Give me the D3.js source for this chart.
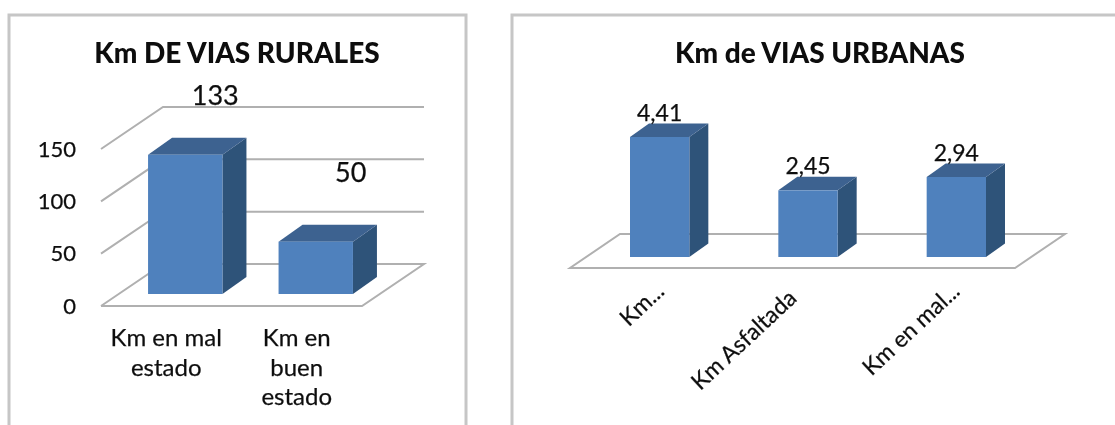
<!DOCTYPE html>
<html>
<head>
<meta charset="utf-8">
<script src="https://d3js.org/d3.v7.min.js"></script>
<style>
    html, body { margin: 0; padding: 0; background: #fff; overflow: hidden; }
    svg { display: block; }
    text { font-family: Lato, "Open Sans", sans-serif; fill: #111; stroke: #111; stroke-width: 0.25px; }
    .chart-title { font-weight: 900; font-size: 28px; text-anchor: middle; fill: #0a0a0a; stroke: none; }
    .grid { stroke: #b0b0b0; stroke-width: 2; fill: none; }
    .tick text { font-size: 22px; }
</style>
</head>
<body>
<div id="chart"></div>
<script>
    // left chart
    var ruralCategories = [["Km en mal", "estado"], ["Km en", "buen", "estado"]];
    var ruralValues = [133, 50];
    var ruralTicks = [0, 50, 100, 150];

    // right chart
    var urbanCategories = ["Km...", "Km Asfaltada", "Km en mal..."];
    var urbanValues = [4.41, 2.45, 2.94];

    var colors = { front: "#4f81bd", top: "#3c6290", side: "#2f5279", frame: "#c6c6c6" };
    var fmt = function(v) { return String(v).replace(".", ","); };

    var svg = d3.select("#chart").append("svg")
        .attr("width", 1115)
        .attr("height", 425);

    svg.append("rect").attr("width", 1115).attr("height", 425).attr("fill", "#fff");

    // soft edge, the reference is a scan
    svg.append("defs").append("filter").attr("id", "soft")
        .append("feGaussianBlur").attr("stdDeviation", 0.45);

    var root = svg.append("g").attr("filter", "url(#soft)");

    // frames run off the bottom (and right for the second one)
    var frame = function(x, w) {
        root.append("rect")
            .attr("x", x).attr("y", 15)
            .attr("width", w).attr("height", 430)
            .attr("fill", "#fff")
            .attr("stroke", colors.frame)
            .attr("stroke-width", 3);
    };
    frame(9, 457);
    frame(512, 640);

    var line = d3.line();

    var bar3d = function(g, x, w, base, top, dx, dy) {
        g.append("path").attr("fill", colors.side)
            .attr("d", line([[x + w, top], [x + w + dx, top + dy], [x + w + dx, base + dy], [x + w, base]]) + "Z");
        g.append("path").attr("fill", colors.top)
            .attr("d", line([[x, top], [x + dx, top + dy], [x + w + dx, top + dy], [x + w, top]]) + "Z");
        g.append("rect").attr("fill", colors.front)
            .attr("x", x).attr("y", top)
            .attr("width", w).attr("height", base - top);
    };

    // ---- Km DE VIAS RURALES ----
    var left = root.append("g");

    left.append("text").attr("class", "chart-title")
        .attr("x", 237).attr("y", 63)
        .text("Km DE VIAS RURALES");

    var wallDx = 62, wallDy = -42;
    var xL = d3.scaleBand()
        .domain(d3.range(ruralValues.length))
        .range([120, 381])
        .paddingInner(0.43)
        .paddingOuter(0.215);
    // y of the front edge of the floor
    var yL = d3.scaleLinear().domain([0, 150]).range([306, 149]);
    var barShiftL = -12;

    ruralTicks.forEach(function(t) {
        var pts = [[101, yL(t)], [101 + wallDx, yL(t) + wallDy], [424, yL(t) + wallDy]];
        if (t === 0) pts.push([362, yL(t)], [101, yL(t)]);
        left.append("path").attr("class", "grid").attr("d", line(pts));
    });

    left.append("g")
        .attr("transform", "translate(83,0)")
        .call(d3.axisLeft(yL).tickValues(ruralTicks).tickSize(0).tickPadding(7))
        .call(function(g) { g.select(".domain").remove(); });

    ruralValues.forEach(function(v, i) {
        bar3d(left, xL(i), xL.bandwidth(), yL(0) + barShiftL, yL(v) + barShiftL, 24, -17);
    });

    // labels sit well off the bars in the reference
    var ruralLabelDx = [30, 35], ruralLabelDy = [-50, -60];
    ruralValues.forEach(function(v, i) {
        left.append("text")
            .attr("x", xL(i) + xL.bandwidth() / 2 + ruralLabelDx[i])
            .attr("y", yL(v) + barShiftL + ruralLabelDy[i])
            .attr("text-anchor", "middle")
            .attr("font-size", 27)
            .text(v);
    });

    ruralCategories.forEach(function(lines, i) {
        lines.forEach(function(s, j) {
            left.append("text")
                .attr("x", xL(i) + xL.bandwidth() / 2 - 19)
                .attr("y", 346 + j * 29.5)
                .attr("text-anchor", "middle")
                .attr("font-size", 24)
                .text(s);
        });
    });

    // ---- Km de VIAS URBANAS ----
    var right = root.append("g");

    right.append("text").attr("class", "chart-title")
        .attr("x", 820).attr("y", 63)
        .text("Km de VIAS URBANAS");

    var xR = d3.scaleBand()
        .domain(d3.range(urbanValues.length))
        .range([585.5, 1030.5])
        .paddingInner(0.6)
        .paddingOuter(0.3);
    var yR = d3.scaleLinear().domain([0, 4.41]).range([257, 137]);

    right.append("path").attr("class", "grid")
        .attr("d", line([[570, 268], [1015, 268], [1065, 234], [620, 234]]) + "Z");

    urbanValues.forEach(function(v, i) {
        bar3d(right, xR(i), xR.bandwidth(), yR(0), yR(v), 19, -13.5);
    });

    urbanValues.forEach(function(v, i) {
        right.append("text")
            .attr("x", xR(i) + xR.bandwidth() / 2)
            .attr("y", yR(v) - 16)
            .attr("text-anchor", "middle")
            .attr("font-size", 23)
            .text(fmt(v));
    });

    var urbanLabelDx = [6, -10, 5], urbanLabelDy = [0, 7, 0];
    urbanCategories.forEach(function(s, i) {
        var px = xR(i) + xR.bandwidth() / 2 + urbanLabelDx[i];
        var py = 293 + urbanLabelDy[i];
        right.append("text")
            .attr("transform", "translate(" + px + "," + py + ") rotate(-43)")
            .attr("text-anchor", "end")
            .attr("font-size", 23)
            .text(s);
    });
</script>
</body>
</html>
